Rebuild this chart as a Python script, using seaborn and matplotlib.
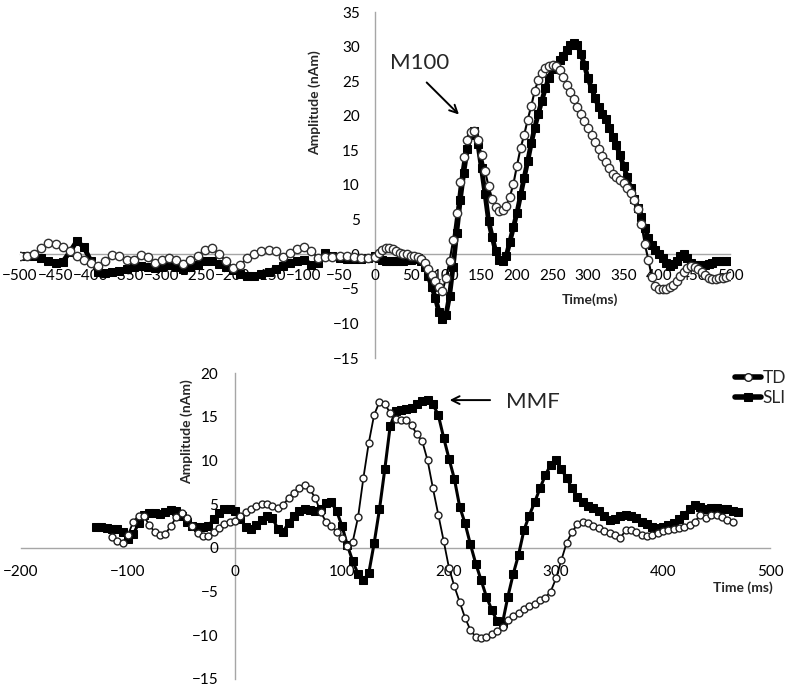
import numpy as np
import matplotlib
matplotlib.use("Agg")
import matplotlib.pyplot as plt
import seaborn as sns

# ---------------- data: top panel (M100) ----------------
top_time = np.r_[np.arange(-500, 0, 10), np.arange(0, 505, 5)]

top_td = [
    # -500 .. -10 (10 ms)
    -0.3, -0.3, 0.0, 0.9, 1.6, 1.5, 1.0, 0.4, -0.2, -0.8,
    -1.3, -1.7, -1.0, -0.1, -0.2, -0.9, -0.8, -0.1, -0.4, -1.2,
    -0.9, -0.5, -0.8, -1.4, -0.9, -0.2, 0.6, 0.9, 0.1, -1.0,
    -2.0, -1.5, -0.6, 0.1, 0.5, 0.6, 0.4, -0.4, 0.2, 0.8,
    1.0, 0.4, -0.5, -0.4, -0.4, -0.3, -0.3, -0.4, -0.5, -0.6,
    # 0 .. 500 (5 ms)
    -0.4, 0.2, 0.6, 0.9, 0.9, 0.7, 0.4, 0.2, 0.1, 0.0,
    -0.2, -0.3, -0.4, -0.7, -1.3, -2.1, -3.0, -3.9, -4.7, -5.3,
    -3.5, -1.0, 2.0, 6.0, 10.5, 14.0, 16.5, 17.7, 17.8, 16.5,
    14.3, 12.0, 9.8, 8.0, 6.8, 6.3, 6.4, 7.0, 8.3, 10.2,
    12.8, 15.3, 17.2, 19.4, 21.4, 23.6, 25.2, 26.2, 26.9, 27.2,
    27.4, 27.2, 26.6, 25.6, 24.5, 23.4, 22.4, 21.3, 20.3, 19.3,
    18.2, 17.2, 16.2, 15.2, 14.2, 13.3, 12.4, 11.6, 11.1, 10.7,
    10.3, 9.6, 8.9, 7.9, 6.5, 4.4, 1.5, -0.8, -3.3, -4.6,
    -5.0, -5.1, -5.0, -4.7, -4.4, -3.9, -3.2, -2.6, -2.0, -1.7,
    -1.8, -2.1, -2.5, -3.0, -3.4, -3.6, -3.6, -3.5, -3.4, -3.3,
    -3.2,
]

top_sli = [
    # -500 .. -10 (10 ms)
    -0.3, -0.3, -0.3, -0.5, -1.0, -1.3, -1.1, 0.3, 1.9, 1.0,
    -1.0, -2.5, -2.7, -2.6, -2.4, -2.2, -1.9, -1.7, -1.8, -2.0,
    -1.8, -1.5, -1.8, -2.2, -1.9, -1.5, -1.0, -1.0, -1.4, -1.8,
    -2.3, -2.8, -3.2, -3.1, -2.8, -2.5, -2.1, -1.7, -1.3, -1.0,
    -0.8, -1.5, -1.2, 0.2, -0.2, -0.6, -0.7, -0.7, -0.7, -0.5,
    # 0 .. 500 (5 ms)
    -0.3, -0.6, -0.9, -1.0, -1.0, -1.0, -1.0, -1.0, -1.0, -0.9,
    -0.8, -0.7, -0.6, -1.0, -1.8, -3.2, -4.7, -6.3, -8.3, -9.4,
    -8.8, -6.0, -1.8, 3.0, 7.8, 11.8, 15.2, 17.2, 17.8, 15.9,
    12.4, 8.7, 4.8, 2.5, 0.4, -0.8, -1.0, -0.2, 1.8, 3.9,
    6.0, 8.5, 11.0, 13.4, 16.0, 18.3, 20.3, 22.2, 24.0, 25.5,
    26.8, 27.4, 28.0, 28.7, 29.5, 30.3, 30.5, 30.2, 29.0, 27.3,
    25.4, 24.0, 22.6, 21.3, 20.3, 19.5, 18.3, 17.0, 15.8, 14.3,
    12.8, 11.2, 9.6, 8.0, 6.7, 5.4, 3.8, 2.3, 1.3, 0.6,
    0.0, -0.6, -1.2, -1.7, -1.4, -1.0, -0.2, 0.0, -0.6, -1.2,
    -1.5, -1.5, -1.5, -1.5, -1.4, -1.2, -1.0, -1.0, -1.0, -1.0,
    -1.0,
]

# ---------------- data: bottom panel (MMF) ----------------
bot_td_time = np.arange(-115, 470, 5)
bot_td = [
    1.2, 0.8, 0.6, 1.5, 3.0, 3.7, 3.6, 2.6, 1.8, 1.5,
    1.6, 2.5, 3.5, 4.0, 3.4, 2.5, 1.7, 1.3, 1.4, 1.8,
    2.3, 2.7, 3.0, 3.1, 3.6, 4.1, 4.4, 4.8, 5.0, 5.0,
    4.8, 4.6, 4.9, 5.7, 6.3, 6.9, 7.2, 6.7, 5.7, 4.1,
    3.0, 2.5, 1.8, 1.1, 0.2, 0.7, 3.5, 8.0, 12.0, 15.2,
    16.7, 16.5, 15.4, 14.7, 14.6, 14.6, 14.0, 13.0, 12.2, 10.0,
    6.8, 3.8, 0.8, -2.3, -4.4, -6.2, -8.0, -9.4, -10.2, -10.3,
    -10.2, -9.9, -9.5, -9.0, -8.3, -7.8, -7.4, -7.0, -6.7, -6.4,
    -6.0, -5.7, -5.0, -3.5, -1.4, 0.6, 1.8, 2.7, 3.0, 2.8,
    2.5, 2.3, 1.9, 1.7, 1.5, 1.1, 2.0, 2.0, 1.8, 1.5,
    1.3, 1.5, 1.7, 1.9, 2.0, 2.1, 2.3, 2.4, 2.6, 3.0,
    3.8, 3.4, 3.8, 3.8, 3.5, 3.2, 3.0,
]

bot_sli_time = np.arange(-130, 475, 5)
bot_sli = [
    2.4, 2.4, 2.3, 2.2, 2.1, 1.8, 1.0, 1.6, 2.8, 3.8,
    4.0, 4.0, 3.9, 4.1, 4.3, 4.2, 3.7, 3.0, 2.5, 2.4,
    2.4, 2.5, 3.3, 4.0, 4.4, 4.5, 4.2, 3.3, 2.4, 2.1,
    2.6, 3.2, 3.7, 3.4, 2.2, 1.8, 2.9, 3.7, 4.2, 4.4,
    4.3, 4.2, 4.4, 5.1, 5.2, 4.2, 2.5, 0.3, -1.5, -3.0,
    -3.7, -2.9, 0.5, 4.4, 9.0, 13.9, 15.6, 15.8, 15.9, 16.0,
    16.4, 16.8, 16.9, 16.4, 15.2, 12.6, 10.2, 7.9, 4.7, 2.8,
    0.4, -1.8, -3.7, -5.6, -7.1, -8.4, -8.6, -5.6, -3.0, -0.8,
    2.0, 3.7, 5.2, 6.8, 8.3, 9.5, 10.0, 9.0, 8.0, 6.8,
    5.8, 5.2, 4.8, 4.6, 4.2, 3.6, 3.2, 3.3, 3.7, 3.8,
    3.7, 3.4, 3.0, 2.7, 2.4, 2.3, 2.4, 2.6, 2.9, 3.3,
    3.8, 4.5, 4.9, 4.7, 4.4, 4.6, 4.6, 4.5, 4.4, 4.2,
    4.1,
]

top_xticks = list(range(-500, 501, 50))
top_yticks = list(range(-15, 36, 5))
bot_xticks = list(range(-200, 501, 100))
bot_yticks = list(range(-15, 21, 5))

# ---------------- style ----------------
sns.set_style("white")
plt.rcParams["font.family"] = ["Lato", "DejaVu Sans"]

fig = plt.figure(figsize=(7.88, 6.91), dpi=100)
ax1 = fig.add_axes([20 / 788, 1 - 358 / 691, 710 / 788, 346 / 691])
ax2 = fig.add_axes([21 / 788, 1 - 679 / 691, 749 / 788, 306 / 691])

spine_col = "#a6a6a6"

def style_axes(ax, xl, yl, xt, yt, ticklen, xpad, ypad):
    ax.set_xlim(*xl)
    ax.set_ylim(*yl)
    ax.set_xticks(xt)
    ax.set_yticks(yt)
    ax.spines["left"].set_position(("data", 0))
    ax.spines["bottom"].set_position(("data", 0))
    ax.spines["top"].set_visible(False)
    ax.spines["right"].set_visible(False)
    for s in ("left", "bottom"):
        ax.spines[s].set_color(spine_col)
        ax.spines[s].set_linewidth(1.0)
        ax.spines[s].set_zorder(0.5)
    ax.tick_params(axis="x", direction="out", length=ticklen, color=spine_col,
                   labelsize=11, pad=xpad, labelcolor="black")
    ax.tick_params(axis="y", direction="out", length=ticklen, color=spine_col,
                   labelsize=11, pad=ypad, labelcolor="black")
    ax.patch.set_alpha(0)

# ---------------- top panel ----------------
sns.lineplot(x=top_time, y=top_sli, ax=ax1, color="black", lw=3.5,
             marker="s", markersize=6.2, markerfacecolor="black",
             markeredgecolor="black", estimator=None, sort=False)
sns.lineplot(x=top_time, y=top_td, ax=ax1, color="black", lw=1.5,
             marker="o", markersize=6.0, markerfacecolor="white",
             markeredgecolor="#303030", markeredgewidth=1.0,
             estimator=None, sort=False)
style_axes(ax1, (-500, 500), (-15, 35), top_xticks, top_yticks, 0, 11, 11)
ax1.set_xlabel("Time(ms)", fontsize=10, fontweight="bold", va="center", ha="center")
ax1.xaxis.set_label_coords((590 - 20) / 710, (358 - 300) / 346)
ax1.set_ylabel("Amplitude (nAm)", fontsize=10, fontweight="bold",
               va="center", ha="center", rotation=90, rotation_mode="anchor")
ax1.yaxis.set_label_coords((315 - 20) / 710, (358 - 103) / 346)

ax1.text(63, 27.6, "M100", fontsize=16, ha="center", va="center")
ax1.annotate("", xy=(121, 19.9), xytext=(70, 25.1),
             arrowprops=dict(arrowstyle="->", color="black", lw=1.4,
                             mutation_scale=14))

# ---------------- bottom panel ----------------
sns.lineplot(x=bot_sli_time, y=bot_sli, ax=ax2, color="black", lw=2.2,
             marker="s", markersize=5.2, markerfacecolor="black",
             markeredgecolor="black", estimator=None, sort=False, label="SLI")
sns.lineplot(x=bot_td_time, y=bot_td, ax=ax2, color="black", lw=1.3,
             marker="o", markersize=5.0, markerfacecolor="white",
             markeredgecolor="#202020", markeredgewidth=1.0,
             estimator=None, sort=False, label="TD")
style_axes(ax2, (-200, 500), (-15, 20), bot_xticks, bot_yticks, 4, 8, 8)
ax2.set_xlabel("Time (ms)", fontsize=10, fontweight="bold", va="center", ha="center")
ax2.xaxis.set_label_coords((743 - 21) / 749, (679 - 588) / 306)
ax2.set_ylabel("Amplitude (nAm)", fontsize=10, fontweight="bold",
               va="center", ha="center", rotation=90, rotation_mode="anchor")
ax2.yaxis.set_label_coords((187 - 21) / 749, (679 - 432) / 306)

ax2.text(278, 16.7, "MMF", fontsize=16, ha="center", va="center")
ax2.annotate("", xy=(198, 16.9), xytext=(241, 16.9),
             arrowprops=dict(arrowstyle="->", color="black", lw=1.4,
                             mutation_scale=14))

handles, labels = ax2.get_legend_handles_labels()
order = [labels.index("TD"), labels.index("SLI")]
leg = ax2.legend([handles[i] for i in order], [labels[i] for i in order],
                 loc="upper right", bbox_to_anchor=(786 / 788, 1 - 370 / 691),
                 bbox_transform=fig.transFigure, frameon=False, fontsize=12.5,
                 handlelength=1.5, handletextpad=0.1, labelspacing=0.25,
                 borderpad=0, borderaxespad=0, markerscale=1.1)
for h in leg.legend_handles:
    h.set_linewidth(4)

fig.savefig("out.png", dpi=100)
